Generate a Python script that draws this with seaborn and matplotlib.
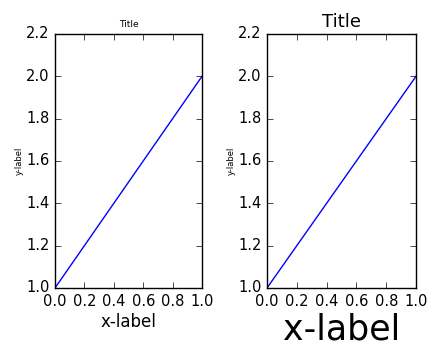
import matplotlib
matplotlib.use("Agg")
import matplotlib.pyplot as plt
import seaborn as sns
import pandas as pd

x_vals = [0, 1]
y_vals = [1, 2]
x_ticks = [0.0, 0.2, 0.4, 0.6, 0.8, 1.0]
y_ticks = [1.0, 1.2, 1.4, 1.6, 1.8, 2.0, 2.2]

plt.style.use("classic")
plt.rcParams["font.family"] = ["DejaVu Sans"]

df = pd.DataFrame({"x": x_vals, "y": y_vals})

fig = plt.figure(figsize=(4.4, 3.6), dpi=100, facecolor="white")
ax1 = fig.add_axes([55/440, 72/360, 147/440, 254/360])
ax2 = fig.add_axes([267/440, 72/360, 149/440, 254/360])

specs = [(ax1, 6.5, 12), (ax2, 13, 25)]
for ax, tsize, xsize in specs:
    sns.lineplot(data=df, x="x", y="y", ax=ax, color="b", linewidth=1)
    ax.set_xlim(0, 1)
    ax.set_ylim(1.0, 2.2)
    ax.set_xticks(x_ticks)
    ax.set_yticks(y_ticks)
    ax.set_xticklabels([f"{v:.1f}" for v in x_ticks])
    ax.set_yticklabels([f"{v:.1f}" for v in y_ticks])
    ax.tick_params(labelsize=10.5)
    ax.set_title("Title", fontsize=tsize, pad=5)
    ax.set_xlabel("x-label", fontsize=xsize, labelpad=3)
    ax.set_ylabel("y-label", fontsize=6, labelpad=1.5)

fig.savefig("out.png", dpi=100, facecolor="white")
